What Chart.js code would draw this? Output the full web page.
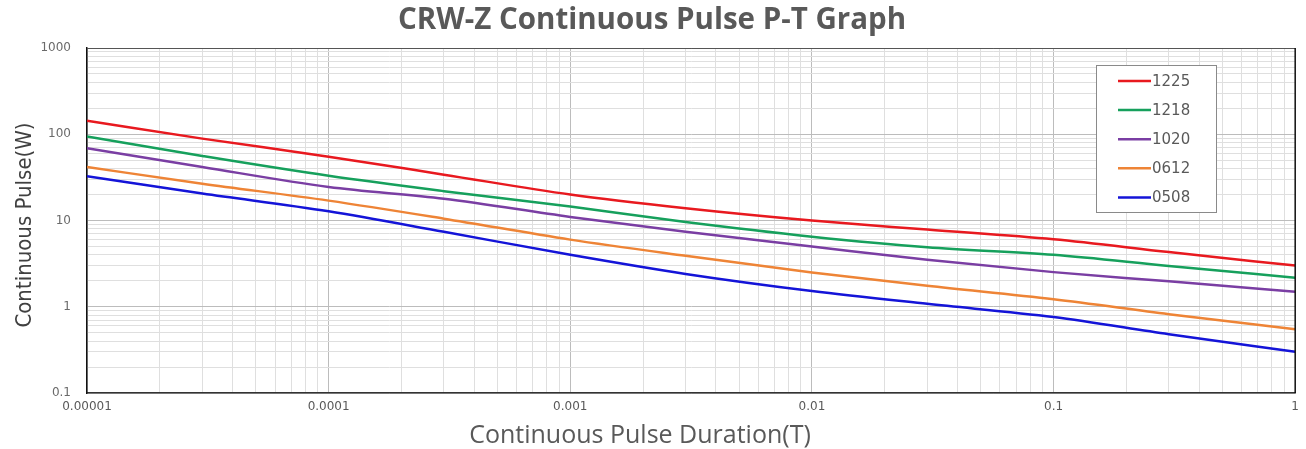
<!DOCTYPE html>
<html>
<head>
<meta charset="utf-8">
<script src="https://cdn.jsdelivr.net/npm/chart.js@4.4.0/dist/chart.umd.min.js"></script>
<style>
  html, body { margin: 0; padding: 0; background: #fff; }
  #wrap { width: 1306px; height: 449px; position: relative; }
</style>
</head>
<body>
<div id="wrap"><canvas id="myChart"></canvas></div>
<script>
// pulse duration (s) where values were read
const durations = [0.00001, 0.00003, 0.0001, 0.0003, 0.001, 0.003, 0.01, 0.03, 0.1, 0.3, 1];
const seriesNames = ['1225', '1218', '1020', '0612', '0508'];
const p1225 = [143, 89, 55, 34, 20, 13.9, 10, 7.85, 6.05, 4.3, 3.0];
const p1218 = [94, 56, 33, 21.9, 14.5, 9.6, 6.5, 4.9, 4.0, 2.97, 2.17];
const p1020 = [69, 41.7, 24.5, 17.9, 11, 7.4, 5, 3.5, 2.52, 1.97, 1.49];
const p0612 = [41.7, 26.7, 17, 10.5, 6, 3.9, 2.5, 1.75, 1.22, 0.82, 0.55];
const p0508 = [32.7, 20.6, 12.8, 7.4, 4, 2.4, 1.52, 1.08, 0.76, 0.48, 0.30];
const colors = ['#e8191f', '#16a05c', '#7a3ea3', '#ee8436', '#1414d8'];
const xTickLabels = ['0.00001', '0.0001', '0.001', '0.01', '0.1', '1'];
const yTickLabels = ['0.1', '1', '10', '100', '1000'];

const allSeries = [p1225, p1218, p1020, p0612, p0508];
const datasets = allSeries.map((vals, i) => ({
  label: seriesNames[i],
  data: vals.map((v, j) => ({ x: durations[j], y: v })),
  borderColor: colors[i],
  backgroundColor: colors[i],
  borderWidth: 2.5,
  pointRadius: 0,
  cubicInterpolationMode: 'monotone',
  fill: false
}));

function isDecade(v) {
  const e = Math.log10(v);
  return Math.abs(e - Math.round(e)) < 1e-6;
}

function logTicks(scale) {
  const ticks = [];
  const lo = Math.round(Math.log10(scale.min));
  const hi = Math.round(Math.log10(scale.max));
  for (let e = lo; e <= hi; e++) {
    for (let m = 1; m <= 9; m++) {
      const v = parseFloat((m * Math.pow(10, e)).toPrecision(6));
      if (v > scale.max * 1.0001) break;
      ticks.push({ value: v });
    }
  }
  scale.ticks = ticks;
}

const gridColor = (c) => (c.tick && isDecade(c.tick.value)) ? '#bcbcbc' : '#dfdfdf';

const overlay = {
  id: 'overlay',
  afterDraw(chart) {
    const ctx = chart.ctx;
    const a = chart.chartArea;
    ctx.save();
    // frame
    ctx.strokeStyle = '#555';
    ctx.lineWidth = 1;
    ctx.beginPath();
    ctx.moveTo(a.left, a.top + 0.5);
    ctx.lineTo(a.right, a.top + 0.5);
    ctx.stroke();
    ctx.strokeStyle = '#111';
    ctx.lineWidth = 1.5;
    ctx.beginPath();
    ctx.moveTo(a.right, a.top);
    ctx.lineTo(a.right, a.bottom);
    ctx.stroke();

    // legend box
    const bx = 1096, by = 65, bw = 120, bh = 147;
    ctx.fillStyle = '#fff';
    ctx.fillRect(bx, by, bw, bh);
    ctx.strokeStyle = '#8a8a8a';
    ctx.lineWidth = 1;
    ctx.strokeRect(bx + 0.5, by + 0.5, bw, bh);
    ctx.font = '15px "DejaVu Sans"';
    ctx.textBaseline = 'middle';
    ctx.textAlign = 'left';
    chart.data.datasets.forEach((ds, i) => {
      const y = 81 + i * 29.1;
      ctx.strokeStyle = ds.borderColor;
      ctx.lineWidth = 2.5;
      ctx.beginPath();
      ctx.moveTo(1118, y);
      ctx.lineTo(1151, y);
      ctx.stroke();
      ctx.fillStyle = '#595959';
      ctx.fillText(ds.label, 1152, y + 1);
    });

    // axis titles
    ctx.fillStyle = '#595959';
    ctx.font = '25px "Open Sans"';
    ctx.textAlign = 'center';
    ctx.fillText('Continuous Pulse Duration(T)', 640, 436);

    ctx.translate(25, 225);
    ctx.rotate(-Math.PI / 2);
    ctx.fillStyle = '#404040';
    ctx.font = '22px "Liberation Sans Narrow", "DejaVu Sans Condensed", sans-serif';
    ctx.fillText('Continuous Pulse(W)', 0, 0);
    ctx.restore();
  }
};

const ctx = document.getElementById('myChart').getContext('2d');
const myChart = new Chart(ctx, {
  type: 'line',
  data: { datasets: datasets },
  plugins: [overlay],
  options: {
    responsive: true,
    maintainAspectRatio: false,
    animation: false,
    layout: { padding: { left: 0, right: 2, top: 0, bottom: 0 } },
    plugins: {
      legend: { display: false },
      tooltip: { enabled: false },
      title: {
        display: true,
        text: 'CRW-Z Continuous Pulse P-T Graph',
        color: '#595959',
        font: { family: 'Open Sans', size: 29.5, weight: 'bold' },
        padding: { top: 3, bottom: 9.6 }
      }
    },
    scales: {
      x: {
        type: 'logarithmic',
        min: 0.00001,
        max: 1,
        afterBuildTicks: logTicks,
        afterFit: (s) => { s.height = 56; },
        grid: { color: gridColor, lineWidth: 1, drawTicks: false },
        border: { color: '#333', width: 1.5 },
        ticks: {
          autoSkip: false,
          maxRotation: 0,
          padding: 7,
          color: '#595959',
          font: { family: 'DejaVu Sans', size: 12 },
          callback: (v) => {
            const s = String(parseFloat(Number(v).toPrecision(6)));
            return xTickLabels.includes(s) ? s : '';
          }
        }
      },
      y: {
        type: 'logarithmic',
        min: 0.1,
        max: 1000,
        afterBuildTicks: logTicks,
        afterFit: (s) => { s.width = 87; },
        grid: { color: gridColor, lineWidth: 1, drawTicks: false },
        border: { color: '#111', width: 1.5 },
        ticks: {
          autoSkip: false,
          padding: 16,
          color: '#6a6a6a',
          font: { family: 'DejaVu Sans', size: 12 },
          callback: (v) => {
            const s = String(parseFloat(Number(v).toPrecision(6)));
            return yTickLabels.includes(s) ? s : '';
          }
        }
      }
    }
  }
});
</script>
</body>
</html>
